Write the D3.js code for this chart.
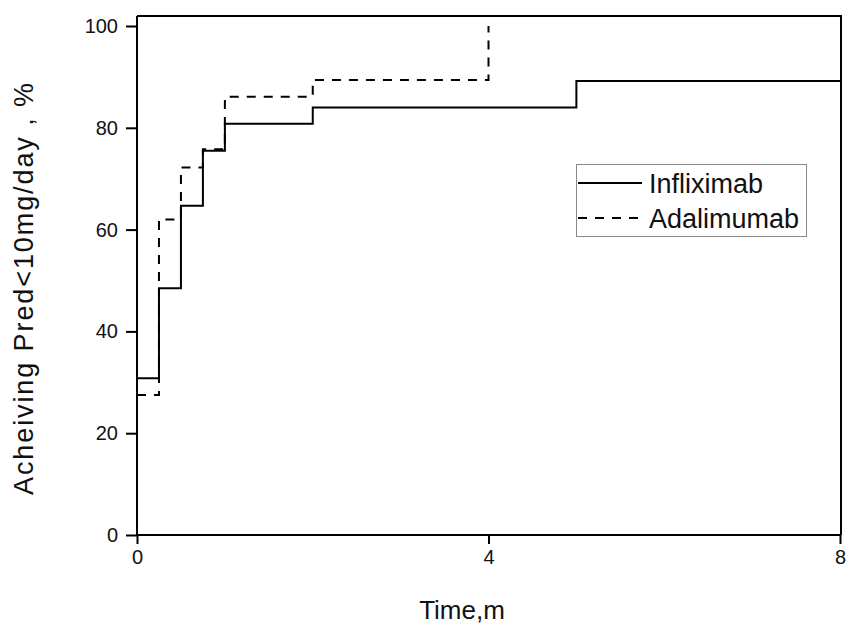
<!DOCTYPE html>
<html>
<head>
<meta charset="utf-8">
<script src="https://cdn.jsdelivr.net/npm/d3@7"></script>
<style>
  html, body { margin: 0; padding: 0; background: #fff; }
  svg { display: block; font-family: "Liberation Sans", Arial, sans-serif; }
</style>
</head>
<body>
<svg id="chart" width="851" height="625"></svg>
<script>
// ---- data ----
const inflixTimes  = [0, 0.25, 0.5, 0.75, 1, 2, 5, 8];
const inflixValues = [30.8, 48.5, 64.7, 75.5, 80.8, 84.0, 89.2, 89.2];
const adaliTimes   = [0, 0.25, 0.5, 0.75, 1, 2, 4, 4];
const adaliValues  = [27.5, 62.0, 72.2, 75.8, 86.1, 89.4, 100, 100];
const xTicks = [0, 4, 8];
const yTicks = [0, 20, 40, 60, 80, 100];
const seriesNames = ["Infliximab", "Adalimumab"];

const svg = d3.select("#chart");
const x = d3.scaleLinear().domain([0, 8]).range([137, 840]);
const y = d3.scaleLinear().domain([0, 100]).range([535, 26]);
const frameTop = 16, frameRight = 841;

// frame (top & right)
svg.append("path")
  .attr("d", `M${x(0)},${frameTop}H${frameRight}V${y(0)}`)
  .attr("fill", "none").attr("stroke", "#000").attr("stroke-width", 2);

// axes
const xAxis = svg.append("g").attr("transform", `translate(0,${y(0)})`)
  .call(d3.axisBottom(x).tickValues(xTicks).tickFormat(d3.format("d")).tickSizeOuter(0).tickSize(9).tickPadding(6));
const yAxis = svg.append("g").attr("transform", `translate(${x(0)},0)`)
  .call(d3.axisLeft(y).tickValues(yTicks).tickFormat(d3.format("d")).tickSizeOuter(0).tickSize(11).tickPadding(8));
[xAxis, yAxis].forEach(g => {
  g.select(".domain").remove();
  g.selectAll("line").attr("stroke", "#000").attr("stroke-width", 2);
  g.selectAll("text").attr("font-size", 20).attr("fill", "#111")
    .attr("font-family", "Liberation Sans, Arial, sans-serif");
});
// axis lines
svg.append("path")
  .attr("d", `M${x(0)},${frameTop}V${y(0)}H${frameRight}`)
  .attr("fill", "none").attr("stroke", "#000").attr("stroke-width", 2);

// step lines
const line = d3.line().x(d => x(d[0])).y(d => y(d[1])).curve(d3.curveStepAfter);
const inflixData = inflixTimes.map((t, i) => [t, inflixValues[i]]);
const adaliData = adaliTimes.map((t, i) => [t, adaliValues[i]]);

svg.append("path").datum(inflixData)
  .attr("d", line).attr("fill", "none").attr("stroke", "#000").attr("stroke-width", 2);
svg.append("path").datum(adaliData)
  .attr("d", line).attr("fill", "none").attr("stroke", "#000").attr("stroke-width", 2)
  .attr("stroke-dasharray", "9,8");

// axis titles
svg.append("text").attr("x", 462).attr("y", 619).attr("text-anchor", "middle")
  .attr("font-size", 26).attr("fill", "#111").text("Time,m");
svg.append("text").attr("transform", "translate(33,495) rotate(-90)")
  .attr("text-anchor", "start").attr("font-size", 27).attr("fill", "#111")
  .attr("textLength", 412).attr("lengthAdjust", "spacing")
  .text("Acheiving Pred<10mg/day , %");

// legend
const lg = svg.append("g");
lg.append("rect").attr("x", 576.5).attr("y", 164.5).attr("width", 230).attr("height", 72)
  .attr("fill", "#fff").attr("stroke", "#888").attr("stroke-width", 1);
const dashes = [null, "9,8"];
seriesNames.forEach((name, i) => {
  const ly = 183 + i * 35;
  lg.append("line").attr("x1", 578).attr("x2", 642).attr("y1", ly).attr("y2", ly)
    .attr("stroke", "#000").attr("stroke-width", 2)
    .attr("stroke-dasharray", dashes[i]);
  lg.append("text").attr("x", 649).attr("y", ly + 10).attr("font-size", 27)
    .attr("fill", "#111").text(name);
});
</script>
</body>
</html>
